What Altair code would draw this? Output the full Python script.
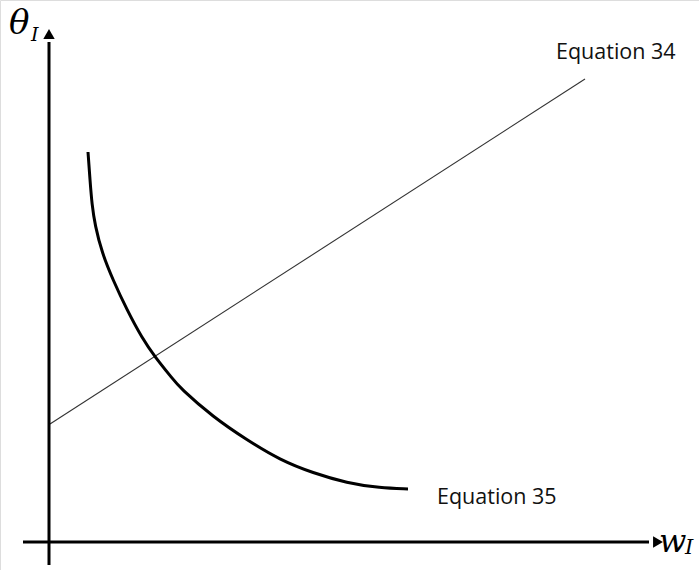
import altair as alt
import pandas as pd

# Equation 35: decreasing convex curve (w_I, theta_I)
curve_w = [39, 41, 43, 46, 53, 64, 78, 93, 106, 123, 131, 164, 198, 231, 264, 298, 331, 359]
curve_theta = [390, 362, 337, 317, 289, 262, 232, 204, 185, 164, 154, 125, 102, 82, 69, 59, 54, 53]

# Equation 34: straight line
line_w = [1, 536]
line_theta = [118, 463]

# Axes with arrow heads
axis_x_w = [-26, 600]
axis_y_theta = [-23, 500]
arrow_right = (609, 0)
arrow_up = (0, 508)

# Labels
eq_labels = ["Equation 34", "Equation 35"]
eq_w = [507, 388]
eq_theta = [489, 44]

X = alt.Scale(domain=[-49, 650], range=[0, 699])
Y = alt.Scale(domain=[-28, 542], range=[570, 0])

curve_df = pd.DataFrame({"w": curve_w, "theta": curve_theta, "i": range(len(curve_w))})
line_df = pd.DataFrame({"w": line_w, "theta": line_theta})
xaxis_df = pd.DataFrame({"w": axis_x_w, "theta": [0, 0]})
yaxis_df = pd.DataFrame({"w": [0, 0], "theta": axis_y_theta})
eq_df = pd.DataFrame({"label": eq_labels, "w": eq_w, "theta": eq_theta})

enc = dict(
    x=alt.X("w:Q", scale=X, axis=None),
    y=alt.Y("theta:Q", scale=Y, axis=None),
)

curve = alt.Chart(curve_df).mark_line(
    color="black", strokeWidth=3, interpolate="basis"
).encode(order="i:Q", **enc)

line = alt.Chart(line_df).mark_line(color="#333333", strokeWidth=1.1).encode(**enc)

xaxis = alt.Chart(xaxis_df).mark_line(color="black", strokeWidth=3).encode(**enc)
yaxis = alt.Chart(yaxis_df).mark_line(color="black", strokeWidth=3).encode(**enc)

heads = alt.Chart(pd.DataFrame({
    "w": [arrow_right[0], arrow_up[0]],
    "theta": [arrow_right[1], arrow_up[1]],
    "shape": ["triangle-right", "triangle-up"],
})).mark_point(filled=True, color="black", opacity=1, size=130).encode(
    shape=alt.Shape("shape:N", scale=None), **enc
)

eq_text = alt.Chart(eq_df).mark_text(
    font="Open Sans", fontSize=21.5, align="left", baseline="middle", color="#111111"
).encode(text="label:N", **enc)

sym_df = pd.DataFrame({
    "t": ["θ", "I", "w", "I"],
    "w": [-40, -18, 610, 636],
    "theta": [518, 507, 0, -6],
    "size": [34, 19, 32, 21],
})
symbols = alt.Chart(sym_df).mark_text(
    font="DejaVu Serif", fontStyle="italic", align="left", baseline="middle", color="black"
).encode(text="t:N", size=alt.Size("size:Q", scale=None, legend=None), **enc)

chart = alt.layer(
    line, curve, xaxis, yaxis, heads, eq_text, symbols
).properties(
    width=699, height=570, autosize=alt.AutoSizeParams(type="none"), padding=0
).configure_view(stroke=None).configure(background="white")

chart.save("out.html", embed_options={"renderer": "svg", "actions": False})
